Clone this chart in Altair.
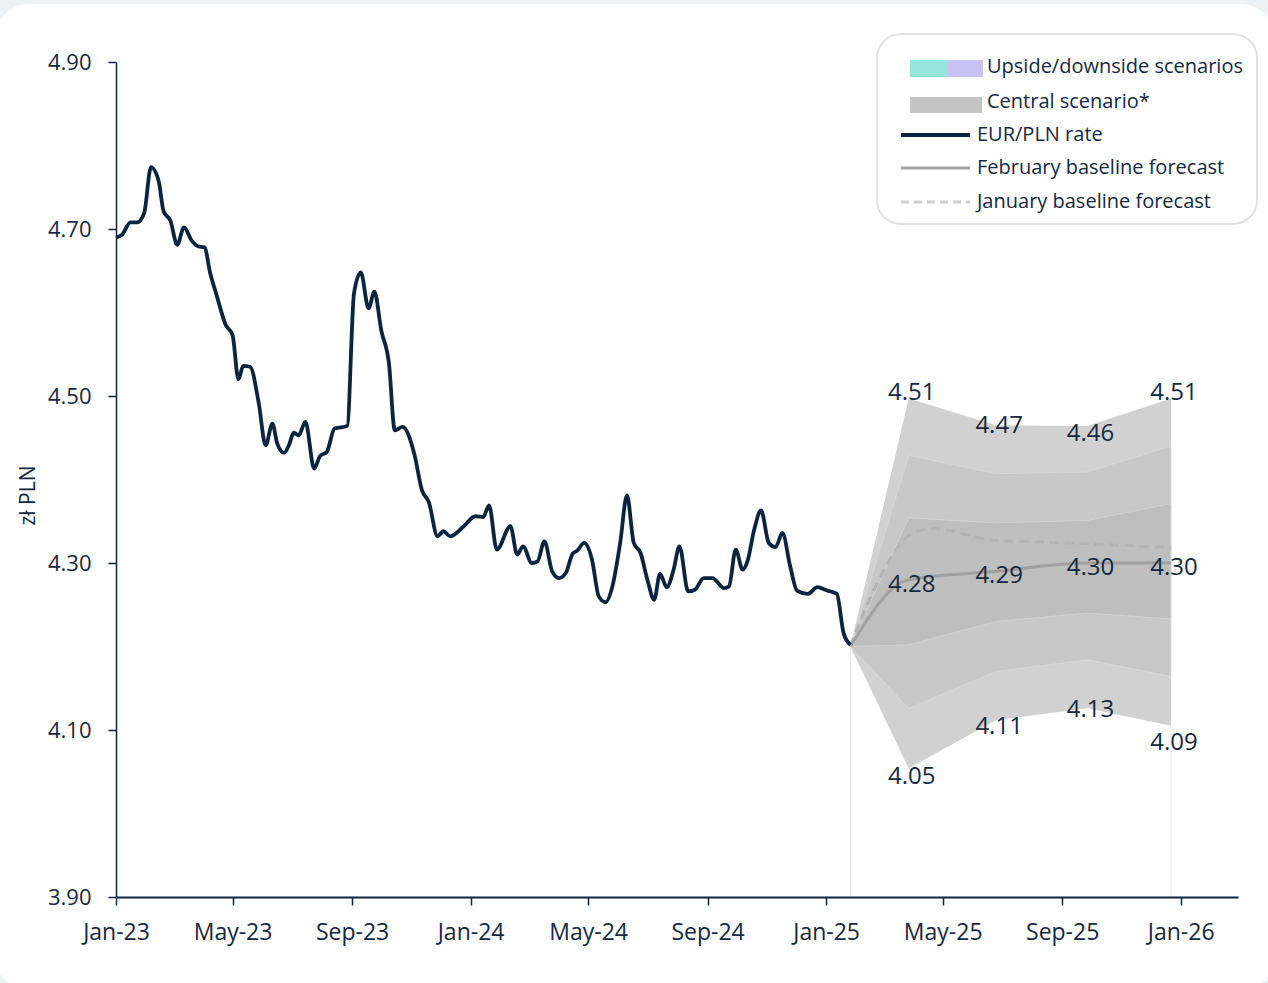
import altair as alt
import pandas as pd

# ---------------- data ----------------
eur_start = "2023-01-01"
eur_day = [0, 6, 15, 22, 29, 36, 44, 49, 56, 63, 70, 78, 85, 91, 97, 104, 113, 120, 126, 131,
           138, 147, 154, 161, 166, 173, 178, 183, 188, 195, 204, 210, 217, 225, 238, 245, 252, 260, 266, 273,
           281, 287, 295, 307, 315, 322, 331, 337, 344, 358, 370, 378, 384, 392, 406, 413, 419, 428, 434, 441,
           449, 456, 463, 470, 475, 482, 490, 497, 504, 511, 519, 526, 533, 540, 547, 554, 560, 567, 574, 580,
           589, 596, 605, 614, 626, 631, 638, 645, 650, 657, 664, 672, 679, 686, 694, 701, 712, 722, 732, 742,
           749, 756]
eur_rate = [4.690, 4.693, 4.708, 4.708, 4.719, 4.774, 4.757, 4.721, 4.710, 4.681, 4.702, 4.686, 4.679, 4.678,
            4.647, 4.619, 4.585, 4.573, 4.520, 4.536, 4.535, 4.491, 4.441, 4.467, 4.443, 4.432, 4.441, 4.456,
            4.453, 4.469, 4.413, 4.428, 4.433, 4.461, 4.464, 4.623, 4.648, 4.605, 4.625, 4.579, 4.539, 4.459,
            4.463, 4.431, 4.387, 4.373, 4.332, 4.338, 4.332, 4.344, 4.356, 4.355, 4.369, 4.316, 4.344, 4.310,
            4.320, 4.300, 4.302, 4.326, 4.290, 4.282, 4.288, 4.311, 4.315, 4.324, 4.304, 4.260, 4.253, 4.272,
            4.324, 4.381, 4.324, 4.312, 4.280, 4.256, 4.287, 4.271, 4.292, 4.320, 4.266, 4.268, 4.282, 4.282,
            4.270, 4.272, 4.316, 4.292, 4.302, 4.340, 4.363, 4.324, 4.319, 4.336, 4.296, 4.267, 4.263, 4.271,
            4.267, 4.263, 4.216, 4.202]

fan_dates = ["2025-01-26", "2025-03-27", "2025-06-25", "2025-09-27", "2025-12-22"]
outer_hi = [4.20, 4.497, 4.465, 4.464, 4.497]
outer_lo = [4.20, 4.054, 4.112, 4.126, 4.105]
mid_hi = [4.20, 4.429, 4.407, 4.409, 4.440]
mid_lo = [4.20, 4.126, 4.170, 4.184, 4.164]
inner_hi = [4.20, 4.354, 4.348, 4.351, 4.371]
inner_lo = [4.20, 4.202, 4.230, 4.240, 4.233]
feb_forecast = [4.20, 4.28, 4.29, 4.30, 4.30]
jan_forecast = [4.20, 4.333, 4.327, 4.323, 4.318]

label_top = [4.51, 4.47, 4.46, 4.51]
label_mid = [4.28, 4.29, 4.30, 4.30]
label_bot = [4.05, 4.11, 4.13, 4.09]

y_ticks = [3.90, 4.10, 4.30, 4.50, 4.70, 4.90]
legend_labels = ["Upside/downside scenarios", "Central scenario*", "EUR/PLN rate",
                 "February baseline forecast", "January baseline forecast"]

# ---------------- styling ----------------
NAVY = "#0b2440"
TEXT = "#15293f"
FONT = "Open Sans"

eur_df = pd.DataFrame({
    "date": pd.Timestamp(eur_start) + pd.to_timedelta(eur_day, unit="D"),
    "rate": eur_rate,
})
fan_df = pd.DataFrame({
    "date": pd.to_datetime(fan_dates),
    "o_hi": outer_hi, "o_lo": outer_lo,
    "m_hi": mid_hi, "m_lo": mid_lo,
    "i_hi": inner_hi, "i_lo": inner_lo,
    "feb": feb_forecast, "jan": jan_forecast,
})
lab_df = pd.DataFrame({
    "date": pd.to_datetime(fan_dates[1:] * 3),
    "val": label_top + label_mid + label_bot,
})
lab_df["txt"] = lab_df["val"].map(lambda v: f"{v:.2f}")
edge_df = fan_df.iloc[[0, 4]][["date", "o_lo"]]

x_scale = alt.Scale(domain=[alt.DateTime(year=2023, month=1, date=1),
                            alt.DateTime(year=2026, month=3, date=1)])
y_scale = alt.Scale(domain=[3.9, 4.9], nice=False, zero=False)

x_ticks = [alt.DateTime(year=y, month=m, date=1) for y in (2023, 2024, 2025) for m in (1, 5, 9)]
x_ticks.append(alt.DateTime(year=2026, month=1, date=1))

x_axis = alt.Axis(values=x_ticks, format="%b-%y", title=None, grid=False, zindex=1,
                  domainColor=NAVY, domainWidth=2, tickColor=NAVY, tickSize=8, tickWidth=1.5,
                  labelFont=FONT, labelFontSize=23, labelColor=TEXT, labelPadding=16,
                  labelFlush=False, labelOverlap=False)
y_axis = alt.Axis(values=y_ticks, format=".2f", title="zł PLN", grid=False, zindex=1,
                  domainColor=NAVY, domainWidth=1.5, tickColor=NAVY, tickSize=8, tickWidth=1.5,
                  labelFont=FONT, labelFontSize=22, labelColor=TEXT, labelPadding=17,
                  titleFont=FONT, titleFontSize=21, titleFontWeight="normal", titleColor=TEXT,
                  titleX=-88, titleY=433, titleAngle=270, titleAlign="center", titleBaseline="middle")

one = pd.DataFrame({"k": [0]})

card = alt.Chart(one).mark_rect(color="white", cornerRadius=36).encode(
    x=alt.value(-122), x2=alt.value(1160), y=alt.value(-58), y2=alt.value(928))

base = alt.Chart(fan_df)
X = alt.X("date:T", scale=x_scale, axis=x_axis)
outer = base.mark_area(color="#d1d1d1").encode(
    x=X, y=alt.Y("o_lo:Q", scale=y_scale, axis=y_axis), y2="o_hi:Q")
mid = base.mark_area(color="#c8c8c8", stroke="#dadada", strokeWidth=0.8).encode(
    x="date:T", y="m_lo:Q", y2="m_hi:Q")
inner = base.mark_area(color="#bebebe", stroke="#d6d6d6", strokeWidth=0.8).encode(
    x="date:T", y="i_lo:Q", y2="i_hi:Q")

edges = alt.Chart(edge_df).mark_rule(color="#ececec", strokeWidth=1).encode(
    x="date:T", y="o_lo:Q", y2=alt.datum(3.9))

jan_line = base.mark_line(color="#b3b3b3", strokeWidth=3, strokeDash=[9, 6],
                          interpolate="cardinal").encode(x="date:T", y="jan:Q")
feb_line = base.mark_line(color="#a0a0a0", strokeWidth=3, interpolate="monotone").encode(
    x="date:T", y="feb:Q")

eur_line = alt.Chart(eur_df).mark_line(color=NAVY, strokeWidth=3.8, interpolate="monotone").encode(
    x="date:T", y="rate:Q")

labels = alt.Chart(lab_df).mark_text(font=FONT, fontSize=24, color=TEXT, align="center",
                                     baseline="middle", dx=3, dy=5).encode(
    x="date:T", y="val:Q", text="txt:N")

# ---------------- custom legend ----------------
leg_box = alt.Chart(one).mark_rect(fill="white", stroke="#e2e2e2", strokeWidth=2, cornerRadius=24).encode(
    x=alt.value(761), x2=alt.value(1141), y=alt.value(-28), y2=alt.value(162))
sw_teal = alt.Chart(one).mark_rect(color="#96e5dd").encode(
    x=alt.value(794), x2=alt.value(832), y=alt.value(-2), y2=alt.value(15))
sw_lav = alt.Chart(one).mark_rect(color="#c8c2f5").encode(
    x=alt.value(832), x2=alt.value(867), y=alt.value(-2), y2=alt.value(15))
sw_gray = alt.Chart(one).mark_rect(color="#c4c4c4").encode(
    x=alt.value(794), x2=alt.value(866), y=alt.value(35), y2=alt.value(51))
ln_eur = alt.Chart(one).mark_rule(color=NAVY, strokeWidth=4).encode(
    x=alt.value(785), x2=alt.value(854), y=alt.value(73))
ln_feb = alt.Chart(one).mark_rule(color="#a3a3a3", strokeWidth=3).encode(
    x=alt.value(785), x2=alt.value(854), y=alt.value(106))
ln_jan = alt.Chart(one).mark_rule(color="#cfcfcf", strokeWidth=3, strokeDash=[8, 5]).encode(
    x=alt.value(785), x2=alt.value(854), y=alt.value(140))

leg_pos = [(871, 5), (871, 40), (861, 73), (861, 106), (861, 140)]
leg_texts = [
    alt.Chart(one).mark_text(font=FONT, fontSize=20, color=TEXT, align="left", baseline="middle").encode(
        x=alt.value(px), y=alt.value(py), text=alt.value(t))
    for t, (px, py) in zip(legend_labels, leg_pos)
]

chart = alt.layer(
    card, outer, mid, inner, edges, jan_line, feb_line, eur_line, labels,
    leg_box, sw_teal, sw_lav, sw_gray, ln_eur, ln_feb, ln_jan, *leg_texts
).properties(
    width=1122, height=835,
    padding={"left": 116, "top": 62, "right": 30, "bottom": 86},
    autosize=alt.AutoSizeParams(type="none"),
    background="#eef1f4",
).configure_view(strokeWidth=0)

chart.save("out.html", embed_options={"renderer": "svg", "actions": False})
